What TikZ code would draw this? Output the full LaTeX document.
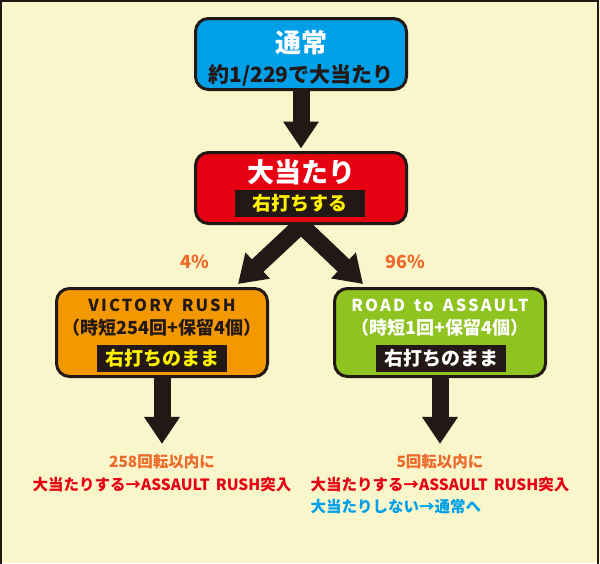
\documentclass[tikz,border=0pt]{standalone}
\usepackage{fontspec}
\setmainfont{Noto Sans CJK JP}
\usetikzlibrary{arrows.meta}
\usetikzlibrary{positioning}
\definecolor{creamBg}{HTML}{FAF6CC}
\definecolor{darkInk}{HTML}{231815}
\definecolor{normalBlue}{HTML}{00A0E9}
\definecolor{hitRed}{HTML}{E60012}
\definecolor{rushOrange}{HTML}{F39800}
\definecolor{roadGreen}{HTML}{8FC31F}
\definecolor{pctOrange}{HTML}{EE6A2A}
\definecolor{barYellow}{HTML}{FFF100}
\pgfdeclarelayer{back}
\pgfsetlayers{back,main}

\begin{document}
\begin{tikzpicture}[x=1pt,y=-1pt]
\tikzset{
  flowBox/.style={
    rectangle,
                   rounded corners=13pt,
                   draw=darkInk,
                   line width=3pt,
                   minimum width=211pt,
                   inner sep=0pt
    },
  barNode/.style={
    fill=darkInk,
                   minimum width=130pt,
                   minimum height=27pt,
                   inner sep=0pt,
                   font=\bfseries\fontsize{19}{19}\selectfont
    },
  boxText/.style={
    inner sep=0pt,
                   font=\bfseries\fontsize{18}{18}\selectfont
    },
  latinText/.style={
    inner sep=0pt,
                   font=\bfseries\fontsize{16.5}{16.5}\selectfont\addfontfeatures{LetterSpace=13}
    },
  pctText/.style={
    inner sep=0pt,
                   text=pctOrange,
                   font=\bfseries\fontsize{18}{18}\selectfont
    },
  resultText/.style={
    inner sep=0pt,
                   align=center,
                   font=\bfseries\fontsize{15.5}{23}\selectfont
    },
  bigArrow/.style={
    draw=darkInk,
                   line width=17pt,
                   -{Triangle[width=34pt,length=27pt]}
    }
}
    \useasboundingbox (0,0) rectangle (600,563);

    % boxes
    \node (normal)[flowBox, fill=normalBlue, minimum height=71pt] at (301,54) {};
    \node (jackpot)[flowBox, fill=hitRed, minimum height=71pt] at (301,188) {};
    \node (victory)[flowBox, fill=rushOrange, minimum height=88pt] at (162,332.5) {};
    \node (road)[flowBox, fill=roadGreen, minimum height=88pt] at (440,332.5) {};

    % texts in the boxes
    \node (normalTitle)[boxText, text=white, font=\bfseries\fontsize{26}{26}\selectfont] at (301,43) {通常};
    \node (normalOdds)[boxText, text=darkInk, font=\bfseries\fontsize{21}{21}\selectfont] at (301,75) {約1/229で大当たり};
    \node (jackpotTitle)[boxText, text=white, font=\bfseries\fontsize{27}{27}\selectfont] at (301,172) {大当たり};
    \node (jackpotBar)[barNode, text=barYellow] at (300,203.5) {右打ちする};
    \node (victoryName)[latinText, text=darkInk] at (162,305) {VICTORY\hspace{9pt}RUSH};
    \node (victorySpec)[boxText, text=darkInk] at (162,328) {（時短254回+保留4個）};
    \node (victoryBar)[barNode, text=barYellow] at (162,358.5) {右打ちのまま};
    \node (roadName)[latinText, text=white] at (440,305) {ROAD\hspace{9pt}to\hspace{9pt}ASSAULT};
    \node (roadSpec)[boxText, text=white] at (440,328) {（時短1回+保留4個）};
    \node (roadBar)[barNode, text=white] at (441,358.5) {右打ちのまま};

    % rates and results
    \node (pctVictory)[pctText] at (195,262) {4\%};
    \node (pctRoad)[pctText] at (405,262) {96\%};
    \node (resultL)[resultText] at (162,473) {{\color{pctOrange}258回転以内に}\\{\color{hitRed}大当たりする→ASSAULT\hspace{6pt}RUSH突入}};
    \node (resultR)[resultText] at (440,473) {{\color{pctOrange}5回転以内に}\\{\color{hitRed}大当たりする→ASSAULT\hspace{6pt}RUSH突入}};
    \node (missR)[resultText, text=normalBlue, below=7pt of resultR.south west, anchor=north west] {大当たりしない→通常へ};

    \begin{pgfonlayer}{back}
    \fill[creamBg] (0,0) rectangle (600,563);
    \draw[bigArrow, shorten >=2.5pt] (normal.south) -- (jackpot.north);
    \draw[bigArrow, shorten <=-10pt] (jackpot.south) -- ([xshift=76pt,yshift=3pt]victory.north);
    \draw[bigArrow, shorten <=-10pt] (jackpot.south) -- ([xshift=-77pt,yshift=3pt]road.north);
    \draw[bigArrow, shorten >=10pt] (victory.south) -- (resultL.north);
    \draw[bigArrow, shorten >=10pt] (road.south) -- (resultR.north);
    \end{pgfonlayer}

    \draw[darkInk, line width=2pt] (1,1) rectangle (598,566);
\end{tikzpicture}
\end{document}
